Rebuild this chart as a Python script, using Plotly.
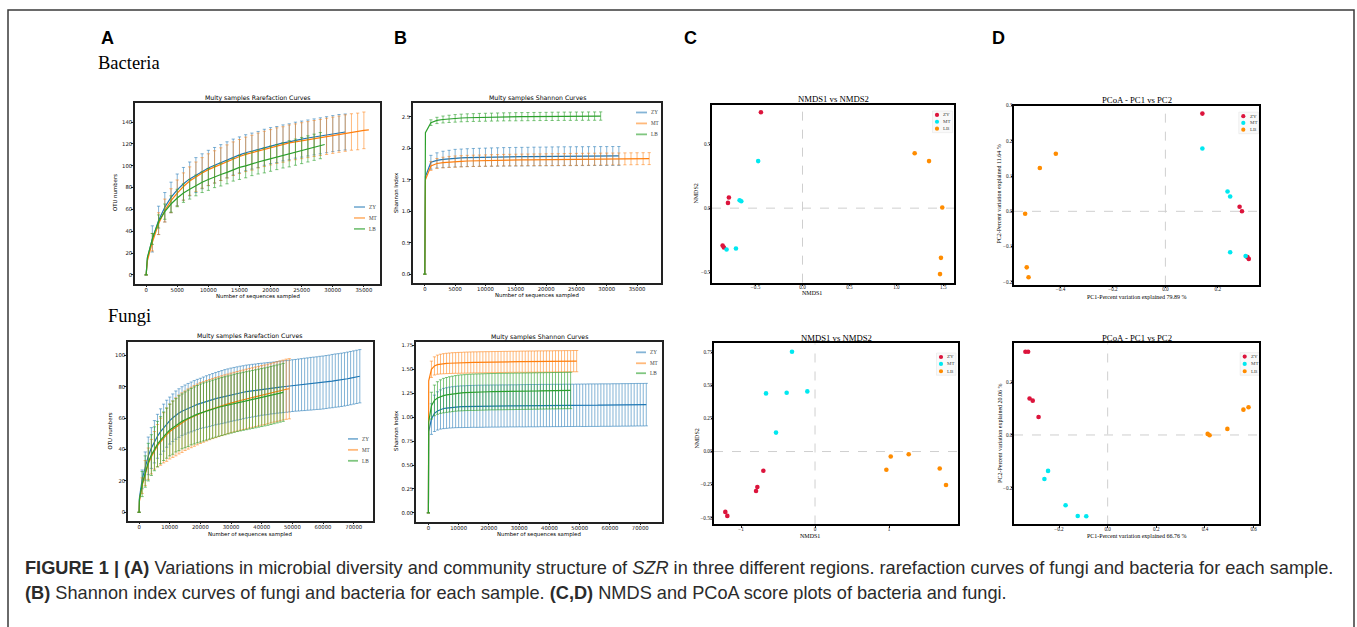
import plotly.graph_objects as go

W, H = 1357, 627

def px(x):
    return x / W

def py(y):
    return 1 - y / H

groups = ["ZY", "MT", "LB"]
line_colors = ["#1f77b4", "#ff7f0e", "#2ca02c"]
err_colors = ["rgba(31,119,180,0.55)", "rgba(255,127,14,0.55)", "rgba(44,160,44,0.6)"]
pt_colors = ["#dc143c", "#00e8f0", "#ff8c00"]

# ---------------- Bacteria rarefaction (OTU numbers) ----------------
bac_x_zy = [0, 200] + list(range(1000, 32001, 1000))
bac_x_mt = [0, 200] + list(range(1000, 35001, 1000)) + [35800]
bac_x_lb = [0, 200] + list(range(1000, 28001, 1000)) + [28700]

bac_otu_zy = [0, 15, 33, 50, 62, 71, 78, 83.5, 88, 91.5, 95, 98, 100.5, 103, 105.5, 108, 110, 112,
              113.5, 115, 117, 118.5, 119.5, 121, 122, 123.5, 124.5, 125.5, 126.5, 127.5, 128.5,
              129.5, 130.5, 131]
bac_otu_zy_err = [0, None, 12, 13, 13.5, 14, 14.5, 15, 15.5, 16, 16, 16.2, 16.3, 16.4, 16.5, 16.5,
                  16.5, 16.5, 16.5, 16.5, 16.5, 16.5, 16.5, 16.5, 16.5, 16.5, 16.5, 16.5, 16.5,
                  16.5, 16.5, 16.5, 16.5, 16.5]
bac_otu_mt = [0, 13, 30, 47, 59, 68, 75, 81, 86, 90, 93.5, 96.5, 99, 101.5, 104, 106.5, 108.5, 110.5,
              112, 114, 115.5, 117, 118.5, 119.5, 121, 122, 123, 124, 125, 126, 127, 128, 129, 130,
              131, 131.5, 132.5, 133]
bac_otu_mt_err = [0, None, 8, 10, 10.5, 11, 12, 12.5, 13, 13.5, 14, 14.5, 14.8, 15, 15.2, 15.4, 15.6,
                  15.8, 16, 16, 16.2, 16.2, 16.3, 16.3, 16.4, 16.4, 16.5, 16.5, 16.5, 16.5, 16.6,
                  16.6, 16.6, 16.7, 16.7, 16.8, 16.8, None]
bac_otu_lb = [0, 16, 33, 49, 58, 65, 70.5, 75, 78.5, 82, 85, 87.5, 90, 92, 94, 96.5, 98.5, 100, 102,
              103.5, 105, 106.5, 108, 109.5, 111, 112.5, 114, 115.5, 117, 118.5, 119.5]
bac_otu_lb_err = [0, None, 5, 6, 7, 7.5, 8, 8.5, 9, 9.5, 9.5, 10, 10, 10.5, 10.5, 10.5, 11, 11, 11,
                  11, 11.5, 11.5, 11.5, 11.5, 12, 12, 12, 12, 12, 12, None]

# ---------------- Bacteria Shannon ----------------
shb_x_zy = [0, 100] + list(range(1000, 32001, 1000))
shb_x_mt = [0, 100] + list(range(1000, 37001, 1000))
shb_x_lb = [0, 100] + list(range(1000, 29001, 1000))

sh_bac_zy = [0, 1.55, 1.78, 1.81, 1.825, 1.835, 1.845, 1.85, 1.853, 1.856, 1.858, 1.86, 1.862, 1.864,
             1.866, 1.867, 1.868, 1.869, 1.87, 1.871, 1.872, 1.873, 1.874, 1.875, 1.876, 1.876,
             1.877, 1.877, 1.878, 1.878, 1.879, 1.879, 1.88, 1.88]
sh_bac_zy_err = [0, None, 0.11, 0.12, 0.13, 0.135, 0.14, 0.14, 0.142, 0.143, 0.144, 0.145, 0.146,
                 0.146, 0.147, 0.147, 0.148, 0.148, 0.148, 0.149, 0.149, 0.149, 0.15, 0.15, 0.15,
                 0.15, 0.15, 0.15, 0.15, 0.15, 0.15, 0.15, 0.15, 0.15]
sh_bac_mt = [0, 1.5, 1.72, 1.76, 1.775, 1.785, 1.79, 1.795, 1.8, 1.803, 1.805, 1.807, 1.809, 1.811,
             1.813, 1.815, 1.816, 1.817, 1.818, 1.819, 1.82, 1.821, 1.822, 1.823, 1.824, 1.825,
             1.826, 1.827, 1.828, 1.829, 1.83, 1.831, 1.832, 1.833, 1.834, 1.835, 1.836, 1.837, 1.838]
sh_bac_mt_err = [0, None, 0.07, 0.08, 0.085, 0.088, 0.09, 0.09, 0.09, 0.09, 0.09, 0.09,
                 0.091, 0.091, 0.092, 0.092, 0.092, 0.093, 0.093, 0.093, 0.093, 0.094,
                 0.094, 0.094, 0.094, 0.095, 0.095, 0.095, 0.095, 0.095, 0.095, 0.095,
                 0.095, 0.095, 0.095, 0.095, 0.095, 0.095, 0.095]
sh_bac_lb = [0, 2.25, 2.41, 2.445, 2.46, 2.47, 2.478, 2.484, 2.488, 2.491, 2.494, 2.496, 2.498, 2.5,
             2.502, 2.503, 2.504, 2.505, 2.506, 2.507, 2.508, 2.509, 2.51, 2.511, 2.512, 2.512,
             2.513, 2.513, 2.514, 2.514, 2.515]
sh_bac_lb_err = [0, None, 0.045, 0.05, 0.055, 0.058, 0.06, 0.061, 0.062, 0.062, 0.063, 0.063,
                 0.063, 0.064, 0.064, 0.064, 0.065, 0.065, 0.065, 0.065, 0.065, 0.065,
                 0.066, 0.066, 0.066, 0.066, 0.066, 0.066, 0.066, 0.066, 0.066]

# ---------------- Fungi rarefaction ----------------
fun_x_zy = [0, 100] + list(range(1000, 72001, 1000))
fun_x_mt = [0, 100] + list(range(1000, 49001, 1000))
fun_x_lb = [0, 100] + list(range(1000, 47001, 1000))

fun_otu_zy = [0, 9,
              21, 29.5, 36, 41, 45, 48.5, 51.5, 54, 56.5, 58.5,
              60.3, 62, 63.3, 64.5, 65.5, 66.4, 67.2, 68, 68.8, 69.5,
              70.1, 70.7, 71.3, 71.9, 72.5, 73, 73.5, 74, 74.5, 75,
              75.4, 75.8, 76.2, 76.6, 77, 77.3, 77.6, 77.9, 78.2, 78.5,
              78.7, 78.9, 79.2, 79.4, 79.7, 79.9, 80.1, 80.3, 80.5, 80.8,
              81, 81.2, 81.4, 81.6, 81.8, 82, 82.2, 82.4, 82.6, 82.8,
              83.1, 83.4, 83.7, 84, 84.2, 84.5, 84.8, 85.2, 85.6, 86,
              86.4, 86.8]
fun_otu_zy_err = [0, None,
                  6, 9, 12, 13, 13.5, 14, 14.5, 15, 15, 15,
                  15.2, 15.4, 15.5, 15.6, 15.7, 15.8, 15.9, 16, 16, 16,
                  16.2, 16.4, 16.5, 16.6, 16.7, 16.8, 16.9, 17, 17, 17,
                  17, 17, 17, 16.9, 16.9, 16.8, 16.8, 16.7, 16.7, 16.6,
                  16.6, 16.6, 16.5, 16.5, 16.5, 16.5, 16.5, 16.5, 16.5, 16.5,
                  16.5, 16.6, 16.6, 16.7, 16.7, 16.8, 16.8, 16.8, 16.9, 16.9,
                  16.9, 16.9, 17, 17, 17, 17, 17, 17, 17, 17,
                  17, 17]
fun_otu_mt = [0, 7,
              17, 25, 31, 35.5, 39.5, 42.5, 45, 47.5, 49.5, 51.5,
              53, 54.5, 56, 57.2, 58.4, 59.5, 60.5, 61.5, 62.4, 63.3,
              64, 64.8, 65.5, 66.2, 66.8, 67.4, 68, 68.6, 69.2, 69.8,
              70.3, 70.8, 71.3, 71.8, 72.3, 72.8, 73.2, 73.7, 74.1, 74.6,
              75, 75.5, 76, 76.5, 77, 77.5, 78, 78.5, 78.8]
fun_otu_mt_err = [0, None,
                  5, 8, 10, 11, 12, 13.5, 15, 16, 17, 17.5,
                  18, 18.5, 18.8, 19, 19, 19.2, 19.3, 19.4, 19.4, 19.4,
                  19.3, 19.3, 19.2, 19.2, 19.2, 19.1, 19.1, 19.1, 19, 19,
                  19, 19, 19, 19, 19, 19, 19, 19, 19, 19,
                  19, 19, 19, 19, 19, 19.1, 19.1, 19.2, 19.2]
fun_otu_lb = [0, 8,
              18, 26, 32, 36.5, 40.5, 43.5, 46, 48.5, 50.5, 52.5,
              54, 55.5, 56.8, 58, 59, 60, 61, 61.8, 62.6, 63.3,
              64, 64.6, 65.2, 65.8, 66.4, 67, 67.5, 68, 68.5, 69,
              69.5, 70, 70.4, 70.8, 71.2, 71.6, 72, 72.4, 72.8, 73.2,
              73.6, 74, 74.5, 75, 75.5, 76, 76.5]
fun_otu_lb_err = [0, None,
                  8, 10, 12, 13, 14, 14.5, 15, 15.5, 16, 16.5,
                  17, 17, 17.5, 17.5, 17.8, 18, 18, 18.2, 18.3, 18.5,
                  18.5, 18.5, 18.5, 18.5, 18.5, 18.5, 18.5, 18.5, 18.5, 18.5,
                  18.5, 18.5, 18.5, 18.5, 18.5, 18.5, 18.5, 18.5, 18.5, 18.5,
                  18.5, 18.5, 18.5, 18.5, 18.5, 18.5, 18.5]

# ---------------- Fungi Shannon ----------------
sh_fun_zy = [0, 0.85,
             0.98, 1.04, 1.065, 1.08, 1.09, 1.095, 1.1, 1.103, 1.106, 1.108,
             1.109, 1.11, 1.111, 1.112, 1.113, 1.113, 1.114, 1.114, 1.115, 1.115,
             1.116, 1.116, 1.116, 1.117, 1.117, 1.117, 1.118, 1.118, 1.118, 1.119,
             1.119, 1.119, 1.12, 1.12, 1.12, 1.12, 1.121, 1.121, 1.121, 1.121,
             1.122, 1.122, 1.122, 1.122, 1.123, 1.123, 1.123, 1.123, 1.124, 1.124,
             1.124, 1.124, 1.125, 1.125, 1.125, 1.125, 1.126, 1.126, 1.126, 1.126,
             1.127, 1.127, 1.127, 1.128, 1.128, 1.128, 1.129, 1.129, 1.13, 1.13,
             1.13, 1.131]
sh_fun_zy_err = [0, None,
                 0.16, 0.19, 0.2, 0.205, 0.21, 0.212, 0.214, 0.215, 0.216, 0.217,
                 0.218, 0.218, 0.219, 0.219, 0.219, 0.22, 0.22, 0.22, 0.22, 0.22,
                 0.22, 0.22, 0.22, 0.22, 0.22, 0.22, 0.22, 0.22, 0.22, 0.22,
                 0.221, 0.221, 0.221, 0.221, 0.221, 0.221, 0.221, 0.221, 0.221, 0.221,
                 0.221, 0.221, 0.221, 0.221, 0.221, 0.221, 0.221, 0.221, 0.221, 0.221,
                 0.222, 0.222, 0.222, 0.222, 0.222, 0.222, 0.222, 0.222, 0.222, 0.222,
                 0.222, 0.222, 0.222, 0.222, 0.222, 0.222, 0.222, 0.222, 0.222, 0.222,
                 0.222, 0.222]
sh_fun_mt = [0, 1.38,
             1.5, 1.535, 1.548, 1.554, 1.558, 1.561, 1.563, 1.565, 1.566, 1.567,
             1.568, 1.569, 1.57, 1.571, 1.572, 1.572, 1.573, 1.573, 1.574, 1.574,
             1.575, 1.575, 1.576, 1.576, 1.577, 1.577, 1.578, 1.578, 1.578, 1.579,
             1.579, 1.579, 1.58, 1.58, 1.58, 1.581, 1.581, 1.581, 1.582, 1.582,
             1.582, 1.583, 1.583, 1.583, 1.584, 1.584, 1.584, 1.585, 1.585]
sh_fun_mt_err = [0, None,
                 0.085, 0.095, 0.1, 0.103, 0.105, 0.106, 0.107, 0.108, 0.108, 0.109,
                 0.109, 0.11, 0.11, 0.11, 0.11, 0.11, 0.11, 0.11, 0.11, 0.11,
                 0.11, 0.11, 0.11, 0.11, 0.11, 0.11, 0.11, 0.11, 0.11, 0.11,
                 0.111, 0.111, 0.111, 0.111, 0.111, 0.111, 0.111, 0.111, 0.111, 0.111,
                 0.111, 0.111, 0.111, 0.111, 0.111, 0.111, 0.111, 0.111, 0.111]
sh_fun_lb = [0, 0.95,
             1.12, 1.175, 1.2, 1.215, 1.225, 1.232, 1.238, 1.243, 1.248, 1.252,
             1.254, 1.256, 1.258, 1.259, 1.26, 1.261, 1.262, 1.263, 1.264, 1.265,
             1.266, 1.266, 1.267, 1.267, 1.268, 1.268, 1.269, 1.269, 1.27, 1.27,
             1.271, 1.271, 1.272, 1.272, 1.273, 1.273, 1.274, 1.274, 1.275, 1.275,
             1.276, 1.276, 1.277, 1.277, 1.278, 1.278, 1.279]
sh_fun_lb_err = [0, None,
                 0.14, 0.16, 0.17, 0.175, 0.18, 0.182, 0.184, 0.185, 0.186, 0.187,
                 0.188, 0.188, 0.189, 0.189, 0.19, 0.19, 0.19, 0.19, 0.19, 0.19,
                 0.19, 0.19, 0.19, 0.19, 0.19, 0.19, 0.19, 0.19, 0.19, 0.19,
                 0.19, 0.19, 0.19, 0.19, 0.19, 0.19, 0.19, 0.19, 0.19, 0.19,
                 0.19, 0.19, 0.19, 0.19, 0.19, 0.19, 0.19]

# ---------------- Ordination scores ----------------
nmds_bac_x = [[-0.443, -0.784, -0.794, -0.851, -0.837],
              [-0.472, -0.670, -0.652, -0.809, -0.709],
              [1.195, 1.348, 1.489, 1.475, 1.465]]
nmds_bac_y = [[0.751, 0.083, 0.041, -0.293, -0.308],
              [0.368, 0.062, 0.054, -0.324, -0.316],
              [0.430, 0.368, 0.005, -0.389, -0.516]]
pcoa_bac_x = [[0.141, 0.283, 0.292, 0.313, 0.318],
              [0.141, 0.237, 0.247, 0.247, 0.306],
              [-0.418, -0.479, -0.535, -0.529, -0.522]]
pcoa_bac_y = [[0.277, 0.013, 0.0, -0.130, -0.135],
              [0.178, 0.056, 0.042, -0.116, -0.127],
              [0.163, 0.123, -0.007, -0.159, -0.187]]
nmds_fun_x = [[-0.698, -0.779, -0.797, -1.212, -1.185],
              [-0.311, -0.662, -0.383, -0.104, -0.527],
              [1.023, 1.266, 0.964, 1.685, 1.770]]
nmds_fun_y = [[-0.145, -0.268, -0.298, -0.456, -0.486],
              [0.754, 0.439, 0.444, 0.454, 0.143],
              [-0.038, -0.020, -0.138, -0.128, -0.253]]
pcoa_fun_x = [[-0.338, -0.327, -0.321, -0.308, -0.284],
              [-0.245, -0.260, -0.173, -0.123, -0.088],
              [0.411, 0.419, 0.492, 0.558, 0.579]]
pcoa_fun_y = [[0.315, 0.315, 0.138, 0.130, 0.068],
              [-0.136, -0.167, -0.266, -0.307, -0.308],
              [0.004, -0.001, 0.023, 0.096, 0.105]]

fig = go.Figure()


def axn(i):
    return ("x" if i == 1 else f"x{i}"), ("y" if i == 1 else f"y{i}")


def add_curves(i, xs_l, ms_l, es_l):
    xa, ya = axn(i)
    for k in range(3):
        xs, ms, es = xs_l[k], ms_l[k], es_l[k]
        n = min(len(xs), len(ms), len(es))
        xs, ms, es = xs[:n], ms[:n], es[:n]
        ex = [x for x, e in zip(xs, es) if e is not None]
        ey = [m for m, e in zip(ms, es) if e is not None]
        ee = [e for e in es if e is not None]
        fig.add_trace(go.Scatter(x=ex, y=ey, mode="markers", marker=dict(size=1, opacity=0),
                                 error_y=dict(type="data", array=ee, color=err_colors[k],
                                              thickness=1, width=1.6),
                                 xaxis=xa, yaxis=ya, showlegend=False, hoverinfo="skip"))
        fig.add_trace(go.Scatter(x=xs, y=ms, mode="lines", name=groups[k],
                                 line=dict(color=line_colors[k], width=1.2),
                                 xaxis=xa, yaxis=ya, showlegend=False))


def add_points(i, xs_l, ys_l):
    xa, ya = axn(i)
    for k in range(3):
        fig.add_trace(go.Scatter(x=xs_l[k], y=ys_l[k], mode="markers", name=groups[k],
                                 marker=dict(size=4.6, color=pt_colors[k]),
                                 xaxis=xa, yaxis=ya, showlegend=False))


add_curves(1, [bac_x_zy, bac_x_mt, bac_x_lb], [bac_otu_zy, bac_otu_mt, bac_otu_lb],
           [bac_otu_zy_err, bac_otu_mt_err, bac_otu_lb_err])
add_curves(2, [shb_x_zy, shb_x_mt, shb_x_lb], [sh_bac_zy, sh_bac_mt, sh_bac_lb],
           [sh_bac_zy_err, sh_bac_mt_err, sh_bac_lb_err])
add_points(3, nmds_bac_x, nmds_bac_y)
add_points(4, pcoa_bac_x, pcoa_bac_y)
add_curves(5, [fun_x_zy, fun_x_mt, fun_x_lb], [fun_otu_zy, fun_otu_mt, fun_otu_lb],
           [fun_otu_zy_err, fun_otu_mt_err, fun_otu_lb_err])
add_curves(6, [fun_x_zy, fun_x_mt, fun_x_lb], [sh_fun_zy, sh_fun_mt, sh_fun_lb],
           [sh_fun_zy_err, sh_fun_mt_err, sh_fun_lb_err])
add_points(7, nmds_fun_x, nmds_fun_y)
add_points(8, pcoa_fun_x, pcoa_fun_y)

SANS = "DejaVu Sans"
SERIF = "Liberation Serif, Times New Roman, serif"

# pixel boxes (left, right, top, bottom), ranges, ticks, formats, style
panels = {
    1: dict(box=(135, 380, 100, 282), xr=[-1790, 37590], yr=[-8, 158],
            xt=[0, 5000, 10000, 15000, 20000, 25000, 30000, 35000], xf="d",
            yt=[0, 20, 40, 60, 80, 100, 120, 140], yf="d", kind="mpl"),
    2: dict(box=(413, 661, 100, 281), xr=[-1950, 38950], yr=[-0.135, 2.73],
            xt=[0, 5000, 10000, 15000, 20000, 25000, 30000, 35000], xf="d",
            yt=[0, 0.5, 1.0, 1.5, 2.0, 2.5], yf=".1f", kind="mpl"),
    3: dict(box=(712, 954, 102, 281), xr=[-0.964, 1.614], yr=[-0.583, 0.811],
            xt=[-0.5, 0.0, 0.5, 1.0, 1.5], xf=".1f", yt=[-0.5, 0.0, 0.5], yf=".1f", kind="ord"),
    4: dict(box=(1014, 1259, 103, 283), xr=[-0.5775, 0.357], yr=[-0.208, 0.300],
            xt=[-0.4, -0.2, 0.0, 0.2], xf=".1f", yt=[-0.2, -0.1, 0.0, 0.1, 0.2, 0.3], yf=".1f",
            kind="ord"),
    5: dict(box=(128, 373, 341, 520), xr=[-3620, 76300], yr=[-5.25, 108.4],
            xt=[0, 10000, 20000, 30000, 40000, 50000, 60000, 70000], xf="d",
            yt=[0, 20, 40, 60, 80, 100], yf="d", kind="mpl"),
    6: dict(box=(416, 662, 341, 521), xr=[-4100, 77200], yr=[-0.09, 1.781],
            xt=[0, 10000, 20000, 30000, 40000, 50000, 60000, 70000], xf="d",
            yt=[0, 0.25, 0.5, 0.75, 1.0, 1.25, 1.5, 1.75], yf=".2f", kind="mpl"),
    7: dict(box=(714, 958, 342, 524), xr=[-1.365, 1.932], yr=[-0.551, 0.817],
            xt=[-1, 0, 1], xf="d", yt=[-0.5, -0.25, 0.0, 0.25, 0.5, 0.75], yf=".2f", kind="ord"),
    8: dict(box=(1014, 1259, 342, 524), xr=[-0.385, 0.622], yr=[-0.339, 0.347],
            xt=[-0.2, 0.0, 0.2, 0.4, 0.6], xf=".1f", yt=[-0.2, 0.0, 0.2], yf=".1f", kind="ord"),
}

layout_axes = {}
shapes = []
for i, p in panels.items():
    l, r, t, b = p["box"]
    mpl = p["kind"] == "mpl"
    tickfont = dict(family=SANS if mpl else SERIF, size=5.3 if mpl else 5.2, color="#111")
    common = dict(showgrid=False, zeroline=False, showline=True, mirror=True,
                  linecolor="#222" if mpl else "#000", linewidth=1.5 if mpl else 2,
                  ticks="outside", ticklen=2 if mpl else 1.5, tickwidth=1, tickcolor="#222",
                  ticklabelstandoff=-2 if mpl else -3,
                  tickfont=tickfont, fixedrange=True)
    xk = "xaxis" if i == 1 else f"xaxis{i}"
    yk = "yaxis" if i == 1 else f"yaxis{i}"
    xa, ya = axn(i)
    layout_axes[xk] = dict(common, domain=[px(l), px(r)], anchor=ya, range=p["xr"],
                           tickmode="array", tickvals=p["xt"], tickformat=p["xf"])
    layout_axes[yk] = dict(common, domain=[py(b), py(t)], anchor=xa, range=p["yr"],
                           tickmode="array", tickvals=p["yt"], tickformat=p["yf"])
    if not mpl:
        shapes.append(dict(type="line", xref=xa, yref=f"{ya} domain", x0=0, x1=0, y0=0, y1=1,
                           line=dict(color="#cfcfcf", width=1, dash="dash"), layer="below"))
        shapes.append(dict(type="line", xref=f"{xa} domain", yref=ya, x0=0, x1=1, y0=0, y1=0,
                           line=dict(color="#cfcfcf", width=1, dash="dash"), layer="below"))

annotations = []


def ann(text, x, y, size, family, color="#000", xanchor="center", angle=0):
    annotations.append(dict(text=text, x=px(x), y=py(y), xref="paper", yref="paper",
                            showarrow=False, xanchor=xanchor, yanchor="middle",
                            textangle=angle, font=dict(size=size, family=family, color=color)))


# panel letters and row labels
for letter, x in [("A", 108), ("B", 400), ("C", 690), ("D", 998)]:
    ann(f"<b>{letter}</b>", x, 35, 18, "Liberation Sans, Arial, sans-serif")
ann("Bacteria", 129, 60.5, 18.5, SERIF, xanchor="center")
ann("Fungi", 129, 314.5, 18.5, SERIF, xanchor="center")

# matplotlib-style panels: titles and axis labels
ann("Multy samples Rarefaction Curves", 257.5, 95.5, 6.2, SANS)
ann("Number of sequences sampled", 257.5, 294.5, 5.4, SANS)
ann("OTU numbers", 115, 191, 5.4, SANS, angle=-90)
ann("Multy samples Shannon Curves", 537, 95, 6.2, SANS)
ann("Number of sequences sampled", 537, 294, 5.4, SANS)
ann("Shannon Index", 396, 191, 5.4, SANS, angle=-90)
ann("Multy samples Rarefaction Curves", 250, 335, 6.2, SANS)
ann("Number of sequences sampled", 250, 534, 5.4, SANS)
ann("OTU numbers", 109.5, 430, 5.4, SANS, angle=-90)
ann("Multy samples Shannon Curves", 539, 335.3, 6.2, SANS)
ann("Number of sequences sampled", 539, 534, 5.4, SANS)
ann("Shannon Index", 396, 430, 5.4, SANS, angle=-90)

# ordination panels
ann("NMDS1 vs NMDS2", 833, 96.5, 8.7, SERIF)
ann("NMDS1", 812, 291.5, 6, SERIF)
ann("NMDS2", 696, 191.5, 6, SERIF, angle=-90)
ann("PCoA - PC1 vs PC2", 1136.5, 97, 8.7, SERIF)
ann("PC1-Percent variation explained 79.89 %", 1136.5, 295.5, 6, SERIF)
ann("PC2-Percent variation explained 11.64 %", 999.5, 192, 6, SERIF, angle=-90)
ann("NMDS1 vs NMDS2", 836.5, 337, 8.7, SERIF)
ann("NMDS1", 810, 535.5, 6, SERIF)
ann("NMDS2", 696.7, 438, 6, SERIF, angle=-90)
ann("PCoA - PC1 vs PC2", 1136.5, 337, 8.7, SERIF)
ann("PC1-Percent variation explained 66.76 %", 1136.5, 535.5, 6, SERIF)
ann("PC2-Percent variation explained 20.06 %", 1000, 433, 6, SERIF, angle=-90)

# legends: line style (curves) and dot style (ordination)
line_legends = [(354, 365, 367, [205, 216, 227]),
                (636, 647, 649, [110, 121, 132]),
                (348, 358, 360, [438, 449, 460]),
                (636, 646, 648, [351, 362, 372])]
for x0, x1, xt, ys in line_legends:
    for k in range(3):
        shapes.append(dict(type="line", xref="paper", yref="paper", x0=px(x0), x1=px(x1),
                           y0=py(ys[k]), y1=py(ys[k]),
                           line=dict(color=err_colors[k], width=1.8)))
        ann(groups[k], xt, ys[k], 5.2, SERIF, color="#444", xanchor="left")

dot_legends = [(937, 941.5, [112.5, 119.3, 126.3]),
               (1243.3, 1247.5, [113.7, 120.5, 127.3]),
               (941, 945, [355.7, 362.7, 370]),
               (1244.7, 1249, [355.3, 362.7, 370])]
for xm, xt, ys in dot_legends:
    shapes.append(dict(type="rect", xref="paper", yref="paper", x0=px(xm - 4.5), x1=px(xt + 11),
                       y0=py(ys[2] + 4), y1=py(ys[0] - 4), line=dict(color="#e6e6e6", width=0.6),
                       fillcolor="rgba(245,245,245,0.6)", layer="below"))
    for k in range(3):
        rr = 2.1
        shapes.append(dict(type="circle", xref="paper", yref="paper", x0=px(xm - rr), x1=px(xm + rr),
                           y0=py(ys[k] + rr), y1=py(ys[k] - rr), fillcolor=pt_colors[k],
                           line=dict(width=0)))
        ann(groups[k], xt, ys[k], 5, SERIF, color="#444", xanchor="left")

# caption
CAP = "Liberation Sans, Arial, sans-serif"
ann("<b>FIGURE 1 | (A)</b> Variations in microbial diversity and community structure of <i>SZR</i> "
    "in three different regions. rarefaction curves of fungi and bacteria for each sample.",
    23, 567.5, 18.2, CAP, color="#2b2b2b", xanchor="left")
ann("<b>(B)</b> Shannon index curves of fungi and bacteria for each sample. <b>(C,D)</b> NMDS and "
    "PCoA score plots of bacteria and fungi.",
    23, 592.5, 18.2, CAP, color="#2b2b2b", xanchor="left")

# outer frame of the figure
shapes.append(dict(type="rect", xref="paper", yref="paper", x0=px(8), x1=px(1354),
                   y0=py(640), y1=py(7), line=dict(color="#3a3a3a", width=1.5),
                   fillcolor="rgba(0,0,0,0)"))

fig.update_layout(width=W, height=H, margin=dict(l=0, r=0, t=0, b=0),
                  paper_bgcolor="white", plot_bgcolor="white", showlegend=False,
                  shapes=shapes, annotations=annotations, **layout_axes)

fig.write_html("out.html")
